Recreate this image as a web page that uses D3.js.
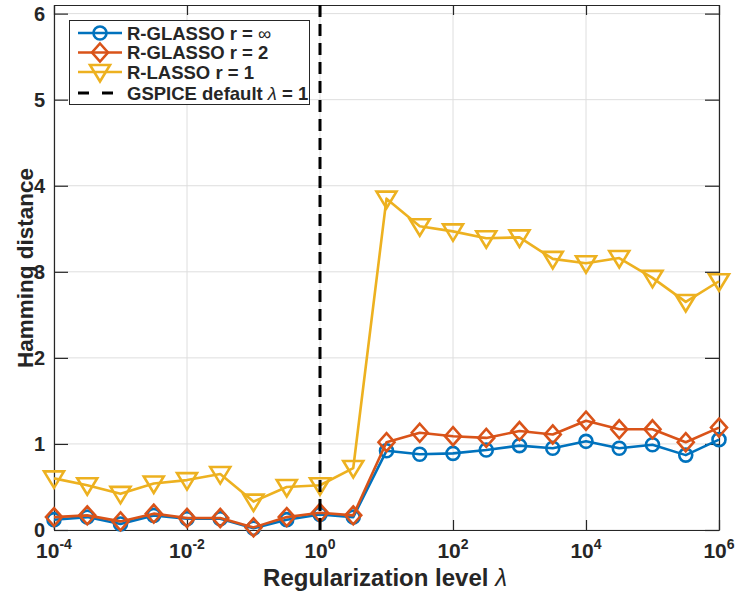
<!DOCTYPE html>
<html>
  <head>
    <meta charset="utf-8">
    <title>Hamming distance vs regularization level</title>
    <script src="https://cdn.jsdelivr.net/npm/d3@7"></script>
    <style>
      body { margin: 0; background: #fff; }
      svg text { font-family: "Liberation Sans", Arial, Helvetica, sans-serif; font-weight: bold; fill: #262626; }
      .grid line { stroke: #dedede; stroke-width: 1; }
    </style>
  </head>
  <body>
    <svg width="742" height="594"></svg>
    <script>
      // lambda grid: 10^-4 ... 10^6 in half-decade steps
      var exponents = [-4, -3.5, -3, -2.5, -2, -1.5, -1, -0.5, 0, 0.5, 1, 1.5, 2, 2.5, 3, 3.5, 4, 4.5, 5, 5.5, 6];
      var glassoInf = [0.12, 0.15, 0.07, 0.17, 0.13, 0.13, 0.02, 0.12, 0.18, 0.15, 0.92, 0.88, 0.89, 0.93, 0.98, 0.95, 1.03, 0.95, 0.99, 0.87, 1.05];
      var glasso2   = [0.15, 0.17, 0.10, 0.19, 0.14, 0.14, 0.03, 0.15, 0.20, 0.17, 1.02, 1.13, 1.09, 1.07, 1.15, 1.11, 1.27, 1.17, 1.17, 1.02, 1.19];
      var lasso1    = [0.60, 0.52, 0.42, 0.54, 0.58, 0.65, 0.33, 0.50, 0.52, 0.72, 3.85, 3.53, 3.47, 3.39, 3.40, 3.15, 3.10, 3.16, 2.93, 2.65, 2.89];
      var xTickExp = [-4, -2, 0, 2, 4, 6];
      var yTicks = [0, 1, 2, 3, 4, 5, 6];
      var legendLabels = ["R-GLASSO r = ", "R-GLASSO r = 2", "R-LASSO r = 1", "GSPICE default "];

      var svg = d3.select("svg");
      var mLeft = 54, mRight = 719, mTop = 5, mBottom = 530;

      var x = d3.scaleLog().domain([1e-4, 1e6]).range([mLeft, mRight]);
      var y = d3.scaleLinear().domain([0, 6.1]).range([mBottom, mTop]);

      // grid
      var grid = svg.append("g").attr("class", "grid");
      grid.selectAll(".gx").data(xTickExp).enter().append("line")
          .attr("x1", function(d) { return x(Math.pow(10, d)); })
          .attr("x2", function(d) { return x(Math.pow(10, d)); })
          .attr("y1", mBottom).attr("y2", mTop);
      grid.selectAll(".gy").data(yTicks).enter().append("line")
          .attr("x1", mLeft).attr("x2", mRight)
          .attr("y1", function(d) { return y(d); })
          .attr("y2", function(d) { return y(d); });

      // axes (ticks inward, box)
      var xTickVals = xTickExp.map(function(e) { return Math.pow(10, e); });
      var xAxis = d3.axisBottom(x).tickValues(xTickVals).tickSizeInner(-10).tickSizeOuter(0).tickFormat("");
      var xAxisTop = d3.axisTop(x).tickValues(xTickVals).tickSizeInner(-10).tickSizeOuter(0).tickFormat("");
      var yAxis = d3.axisLeft(y).tickValues(yTicks).tickSizeInner(-14).tickSizeOuter(0).tickFormat("");
      var yAxisRight = d3.axisRight(y).tickValues(yTicks).tickSizeInner(-14).tickSizeOuter(0).tickFormat("");

      [[xAxis, "translate(0," + mBottom + ")"], [xAxisTop, "translate(0," + mTop + ")"],
       [yAxis, "translate(" + mLeft + ",0)"], [yAxisRight, "translate(" + mRight + ",0)"]].forEach(function(a) {
        var g = svg.append("g").attr("transform", a[1]).call(a[0]);
        g.selectAll("path, line").attr("stroke", "#262626").attr("stroke-width", 1.2);
      });

      // tick labels
      svg.append("g").selectAll("text").data(yTicks).enter().append("text")
          .attr("x", mLeft - 9).attr("y", function(d) { return y(d); })
          .attr("dy", "0.36em").attr("text-anchor", "end")
          .style("font-size", "20px")
          .text(function(d) { return d; });

      var xl = svg.append("g").selectAll("text").data(xTickExp).enter().append("text")
          .attr("x", function(d) { return x(Math.pow(10, d)); }).attr("y", 558)
          .attr("text-anchor", "middle")
          .style("font-size", "21px");
      xl.append("tspan").text("10");
      xl.append("tspan").attr("dy", -9).style("font-size", "14px").text(function(d) { return d; });

      // axis labels
      var xlab = svg.append("text").attr("x", 385).attr("y", 586).attr("text-anchor", "middle")
          .style("font-size", "24px");
      xlab.append("tspan").text("Regularization level ");
      xlab.append("tspan").style("font-style", "italic").style("font-weight", "normal").text("λ");

      svg.append("text").attr("transform", "translate(33,268) rotate(-90)")
          .attr("text-anchor", "middle").style("font-size", "22.5px")
          .text("Hamming distance");

      // series
      var colors = ["#0072BD", "#D95319", "#EDB120"];
      var series = [glassoInf, glasso2, lasso1];
      var shapes = ["circle", "diamond", "triangle"];

      function marker(sel, shape) {
        if (shape === "circle") {
          sel.append("circle").attr("r", 6.5);
        } else if (shape === "diamond") {
          sel.append("path").attr("d", "M0,-9L8,0L0,9L-8,0Z");
        } else {
          sel.append("path").attr("d", "M-10,-7L10,-7L0,9.5Z");
        }
      }

      var line = d3.line()
          .x(function(d) { return x(Math.pow(10, d[0])); })
          .y(function(d) { return y(d[1]); });

      series.forEach(function(vals, k) {
        var pts = exponents.map(function(e, i) { return [e, vals[i]]; });
        var g = svg.append("g").attr("fill", "none").attr("stroke", colors[k]).attr("stroke-width", 2.6);
        g.append("path").attr("d", line(pts)).attr("stroke-linejoin", "round");
        g.selectAll("g").data(pts).enter().append("g")
            .attr("transform", function(d) { return "translate(" + x(Math.pow(10, d[0])) + "," + y(d[1]) + ")"; })
            .each(function() { marker(d3.select(this), shapes[k]); });
      });

      // GSPICE default lambda = 1
      svg.append("line")
          .attr("x1", x(1)).attr("x2", x(1))
          .attr("y1", y(0)).attr("y2", mTop)
          .attr("stroke", "#000").attr("stroke-width", 3)
          .attr("stroke-dasharray", "12,7");

      // legend
      var leg = svg.append("g");
      leg.append("rect").attr("x", 69.5).attr("y", 20.5).attr("width", 240).attr("height", 84)
          .attr("fill", "#fff").attr("stroke", "#262626").attr("stroke-width", 1);
      var rowY = [33, 52.5, 72, 93];
      legendLabels.forEach(function(label, k) {
        var ry = rowY[k];
        var row = leg.append("g");
        if (k < 3) {
          var s = row.append("g").attr("fill", "none").attr("stroke", colors[k]).attr("stroke-width", 2.6);
          s.append("line").attr("x1", 78).attr("x2", 122).attr("y1", ry).attr("y2", ry);
          var m = s.append("g").attr("transform", "translate(100," + ry + ")");
          marker(m, shapes[k]);
        } else {
          row.append("line").attr("x1", 78).attr("x2", 122).attr("y1", ry).attr("y2", ry)
              .attr("stroke", "#000").attr("stroke-width", 3).attr("stroke-dasharray", "11,13");
        }
        var t = row.append("text").attr("x", 127).attr("y", ry).attr("dy", "0.36em")
            .style("font-size", "18.5px");
        t.append("tspan").text(label);
        if (k === 0) {
          t.append("tspan").style("font-weight", "normal").text("∞");
        } else if (k === 3) {
          t.append("tspan").style("font-style", "italic").style("font-weight", "normal").text("λ");
          t.append("tspan").text(" = 1");
        }
      });
    </script>
  </body>
</html>
